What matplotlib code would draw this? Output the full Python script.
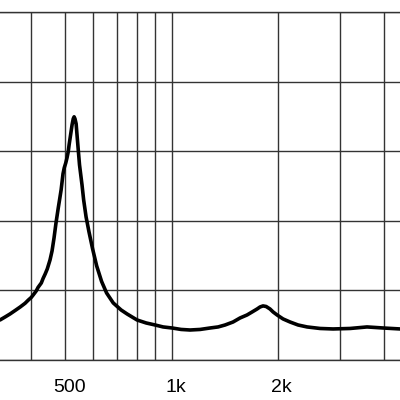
import matplotlib
matplotlib.use('Agg')
from matplotlib import pyplot as plt
from matplotlib.ticker import FixedLocator, NullFormatter, FixedFormatter
from matplotlib.transforms import ScaledTranslation

# frequency (Hz) and level
freq = [326, 337, 348, 360, 372, 384, 392, 400, 405, 413, 418, 427, 432, 438,
        444, 452, 458, 464, 470, 477, 481, 486, 489, 492, 496, 501, 505, 509,
        512, 517, 522, 526, 529, 532, 536, 540, 545, 548, 557, 563, 572, 583,
        597, 613, 633, 654, 683, 719, 748, 798, 847, 898,
        946, 1003, 1064, 1128, 1205, 1286, 1355, 1418, 1494, 1564, 1637, 1692,
        1748, 1782, 1817, 1854, 1902, 1941, 1992, 2071, 2168, 2285, 2423, 2638,
        2871, 3209, 3584, 3980, 4446]
level = [5.75, 6.18, 6.61, 7.12, 7.62, 8.15, 8.60, 9.00, 9.35, 9.92, 10.43, 11.07, 11.72, 12.37,
         13.09, 14.38, 15.67, 17.54, 19.70, 21.86, 23.01, 24.45, 25.60, 26.75, 27.61, 28.33, 29.05, 29.91,
         30.92, 32.35, 33.79, 34.66, 34.94, 34.66, 33.94, 31.92, 29.48, 28.04, 25.17, 23.01, 20.56, 18.41,
         15.96, 13.52, 11.29, 9.63, 8.20, 7.19, 6.61, 5.75, 5.32, 5.03,
         4.75, 4.60, 4.39, 4.31, 4.39, 4.60, 4.75, 5.03, 5.46, 6.04, 6.47, 6.90,
         7.33, 7.62, 7.77, 7.69, 7.33, 6.90, 6.47, 5.90, 5.46, 5.03, 4.75, 4.53,
         4.46, 4.53, 4.75, 4.60, 4.46]

grid_freqs = [400, 500, 600, 700, 800, 900, 1000, 2000, 3000, 4000]
label_freqs = [500, 1000, 2000]
label_text = ['500', '1k', '2k']
y_grid = [0, 10, 20, 30, 40, 50]

fig = plt.figure(figsize=(4, 4), dpi=100)
ax = fig.add_axes([0, 0.1, 1, 0.87])

ax.plot(freq, level, color='black', linewidth=2.6, solid_joinstyle='round',
        solid_capstyle='round', zorder=3)

ax.set_xscale('log')
ax.set_xlim(326, 4446)
ax.set_ylim(0, 50)

ax.xaxis.remove_overlapping_locs = False
ax.xaxis.set_minor_locator(FixedLocator(grid_freqs))
ax.xaxis.set_minor_formatter(NullFormatter())
ax.xaxis.set_major_locator(FixedLocator(label_freqs))
ax.xaxis.set_major_formatter(FixedFormatter(label_text))
ax.set_yticks(y_grid)
ax.set_yticklabels([])

ax.grid(True, which='minor', axis='x', color='#333333', linewidth=1.0)
ax.grid(True, which='major', axis='y', color='#333333', linewidth=1.0)

ax.tick_params(axis='both', which='both', length=0)
ax.tick_params(axis='x', which='major', pad=14, labelsize=14, labelcolor='black')

for side in ['left', 'right']:
    ax.spines[side].set_visible(False)
for side in ['top', 'bottom']:
    ax.spines[side].set_color('#333333')
    ax.spines[side].set_linewidth(1.0)

for lab in ax.get_xticklabels():
    lab.set_fontfamily('Liberation Sans')
    lab.set_transform(lab.get_transform() + ScaledTranslation(0.04, 0, fig.dpi_scale_trans))

fig.savefig('out.png', dpi=100)
